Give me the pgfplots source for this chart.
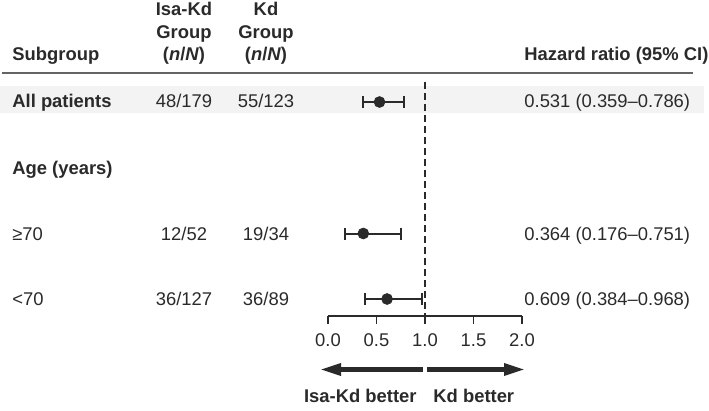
\documentclass[border=0pt]{standalone}
\usepackage{pgfplots}
\pgfplotsset{compat=1.18}
\usepackage{fontspec}
\setmainfont{Liberation Sans}
\usetikzlibrary{arrows.meta}
\definecolor{txt}{RGB}{42,42,42}
\definecolor{band}{RGB}{243,243,243}
\definecolor{rule}{RGB}{100,100,100}
\begin{document}
\fontsize{9.2bp}{11.5bp}\selectfont\color{txt}%
\begin{tikzpicture}
\begin{axis}[
  scale only axis, width=97bp, height=117bp,
  xmin=0, xmax=2, ymin=-316, ymax=-82,
  clip=false,
  axis x line=bottom, axis y line=none,
  axis line style={draw=txt, line width=0.7bp, -},
  xtick={0,0.5,1,1.5,2},
  tick align=outside, major tick length=4bp,
  tick style={draw=txt, line width=0.7bp},
  xticklabel style={font=\fontsize{9.2bp}{11bp}\selectfont, text=txt, yshift=-1.5bp},
  /pgf/number format/assume math mode=true,
  /pgf/number format/.cd, fixed, fixed zerofill, precision=1,
]
% shaded band for All patients
\addplot[draw=none, fill=band] coordinates {(-3.3814,-86) (3.8763,-86) (3.8763,-113) (-3.3814,-113)} -- cycle;
% header rule
\addplot[draw=rule, line width=0.6bp] coordinates {(-3.3608,-73) (3.7629,-73)};
% reference line at HR = 1
\addplot[draw=txt, line width=1bp, dash pattern=on 3.5bp off 2bp] coordinates {(1,-82) (1,-316)};
% hazard ratios with 95% CI
\addplot[only marks, mark=*, mark size=2.7bp, color=txt,
  error bars/.cd, x dir=both, x explicit, error mark=|,
  error bar style={line width=1bp, draw=txt},
  error mark options={line width=1bp, mark size=3bp, draw=txt}]
  coordinates {
    (0.531,-102) += (0.255,0) -= (0.172,0)
    (0.364,-233.5) += (0.387,0) -= (0.188,0)
    (0.609,-299) += (0.359,0) -= (0.225,0)
  };
% direction arrows
\addplot[draw=txt, line width=2.2bp, -{Triangle[length=10.5bp,width=5.8bp]}] coordinates {(0.9794,-369.5) (-0.0825,-369.5)};
\addplot[draw=txt, line width=2.2bp, -{Triangle[length=10.5bp,width=5.8bp]}] coordinates {(1.0206,-369.5) (2.0309,-369.5)};
% header texts
\node[anchor=base west, inner xsep=0pt] at (axis cs:-3.2577,-61) {\bfseries Subgroup};
\node[anchor=base] at (axis cs:-1.4845,-16) {\bfseries Isa-Kd};
\node[anchor=base] at (axis cs:-1.4845,-39) {\bfseries Group};
\node[anchor=base] at (axis cs:-1.4845,-61) {\bfseries (\textit{n}/\textit{N})};
\node[anchor=base] at (axis cs:-0.6392,-16) {\bfseries Kd};
\node[anchor=base] at (axis cs:-0.6392,-39) {\bfseries Group};
\node[anchor=base] at (axis cs:-0.6392,-61) {\bfseries (\textit{n}/\textit{N})};
\node[anchor=base west, inner xsep=0pt] at (axis cs:2.0206,-61) {\bfseries Hazard ratio (95\% CI)};
% rows
\node[anchor=base west, inner xsep=0pt] at (axis cs:-3.2577,-108) {\bfseries All patients};
\node[anchor=base] at (axis cs:-1.4845,-108) {48/179};
\node[anchor=base] at (axis cs:-0.6392,-108) {55/123};
\node[anchor=base west, inner xsep=0pt] at (axis cs:2.0206,-108) {0.531 (0.359–0.786)};
\node[anchor=base west, inner xsep=0pt] at (axis cs:-3.2577,-174) {\bfseries Age (years)};
\node[anchor=base west, inner xsep=0pt] at (axis cs:-3.2577,-240) {≥70};
\node[anchor=base] at (axis cs:-1.4845,-240) {12/52};
\node[anchor=base] at (axis cs:-0.6392,-240) {19/34};
\node[anchor=base west, inner xsep=0pt] at (axis cs:2.0206,-240) {0.364 (0.176–0.751)};
\node[anchor=base west, inner xsep=0pt] at (axis cs:-3.2577,-305) {<70};
\node[anchor=base] at (axis cs:-1.4845,-305) {36/127};
\node[anchor=base] at (axis cs:-0.6392,-305) {36/89};
\node[anchor=base west, inner xsep=0pt] at (axis cs:2.0206,-305) {0.609 (0.384–0.968)};
% direction labels
\node[anchor=base east, inner xsep=0pt] at (axis cs:0.9175,-402) {\bfseries Isa-Kd better};
\node[anchor=base west, inner xsep=0pt] at (axis cs:1.0825,-402) {\bfseries Kd better};
\coordinate (bbl) at (axis cs:-3.3814,-410);
\coordinate (btr) at (axis cs:3.9278,0);
\end{axis}
\pgfresetboundingbox
\path[use as bounding box] (bbl) rectangle (btr);
\end{tikzpicture}
\end{document}
